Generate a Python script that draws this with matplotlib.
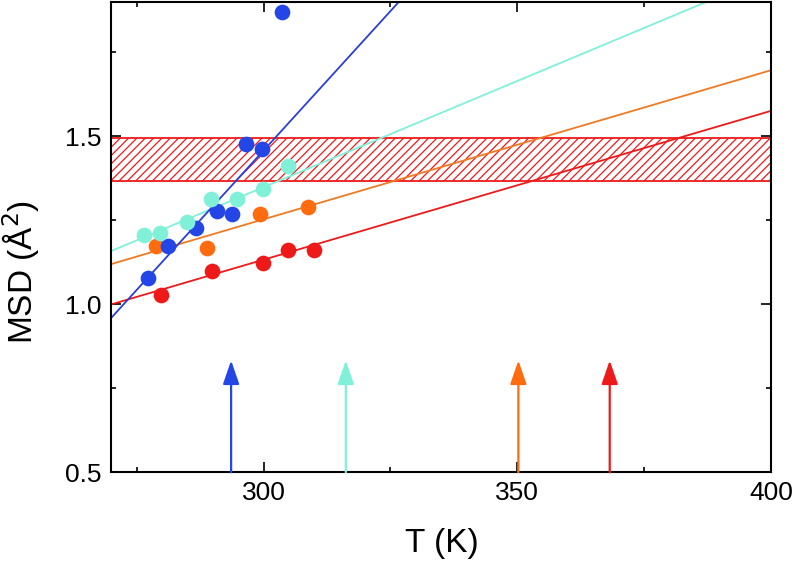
import numpy as np
import matplotlib
matplotlib.use("Agg")
import matplotlib.pyplot as plt

plt.rcParams['font.family'] = ['Liberation Sans', 'DejaVu Sans']
plt.rcParams['hatch.linewidth'] = 0.9

# ------------------------------ Datos ----------------------------

# puntos medidos (T en K, MSD en A^2)
blueT = [277.3, 281.1, 286.7, 290.8, 293.8, 296.5, 299.7, 303.6]
blueMSD = [1.077, 1.174, 1.228, 1.277, 1.269, 1.478, 1.463, 1.870]

cyanT = [276.5, 279.6, 284.9, 289.7, 294.8, 299.8, 304.9]
cyanMSD = [1.206, 1.211, 1.246, 1.314, 1.314, 1.342, 1.413]

orangeT = [278.8, 288.8, 299.2, 308.8]
orangeMSD = [1.174, 1.169, 1.269, 1.289]

redT = [279.8, 289.8, 299.9, 304.8, 309.9]
redMSD = [1.027, 1.098, 1.122, 1.161, 1.161]

# rectas de ajuste: valor de MSD en los extremos T = 270 y T = 400
fitT = [270, 400]
blueFit = [0.960, 3.118]
cyanFit = [1.159, 1.981]
orangeFit = [1.120, 1.697]
redFit = [1.000, 1.576]

# banda rayada
bandLow = 1.367
bandHigh = 1.495

# flechas (temperaturas marcadas)
arrowT = [293.6, 316.2, 350.2, 368.2]
arrowTop = 0.833

colBlue = '#2446e6'
colCyan = '#80f0d8'
colOrange = '#ff6c10'
colRed = '#ee1a1a'
lineBlue = '#2a3fd6'
lineOrange = '#f07a24'

# ------------------------------ Grafica ----------------------------

fig = plt.figure(figsize=(7.93, 5.72), dpi=100)
ax = fig.add_axes([0.1404, 0.1743, 0.832, 0.8222])

ax.axhspan(bandLow, bandHigh, facecolor='white', edgecolor=colRed,
           hatch='////', linewidth=1.3, zorder=1)

ax.plot(fitT, redFit, color=colRed, lw=1.3, zorder=2)
ax.plot(fitT, orangeFit, color=lineOrange, lw=1.3, zorder=2)
ax.plot(fitT, cyanFit, color=colCyan, lw=1.3, zorder=2)
ax.plot(fitT, blueFit, color=lineBlue, lw=1.3, zorder=2)

ms = 11.3
ax.plot(redT, redMSD, 'o', color=colRed, ms=ms, mew=0, zorder=3)
ax.plot(orangeT, orangeMSD, 'o', color=colOrange, ms=ms, mew=0, zorder=3)
ax.plot(blueT, blueMSD, 'o', color=colBlue, ms=ms, mew=0, zorder=3)
ax.plot(cyanT, cyanMSD, 'o', color=colCyan, ms=ms, mew=0, zorder=3)

for T, c in zip(arrowT, [colBlue, colCyan, colOrange, colRed]):
    ax.annotate('', xy=(T, arrowTop), xytext=(T, 0.5),
                arrowprops=dict(arrowstyle='-|>,head_width=0.5,head_length=1.45',
                                color=c, lw=1.6, shrinkA=0, shrinkB=0))

ax.set_xlim(270, 400)
ax.set_ylim(0.5, 1.9)
ax.set_xticks([300, 350, 400])
ax.set_xticks([275, 325, 375], minor=True)
ax.set_yticks([0.5, 1.0, 1.5])
ax.set_yticks([0.75, 1.25, 1.75], minor=True)
ax.set_yticklabels(['0.5', '1.0', '1.5'])

ax.tick_params(which='both', direction='in', top=True, right=True, width=1.2)
ax.tick_params(which='major', length=7)
ax.tick_params(which='minor', length=3.5)
ax.tick_params(axis='x', labelsize=19, pad=6)
ax.tick_params(axis='y', labelsize=19, pad=7)
for s in ax.spines.values():
    s.set_linewidth(1.5)

ax.set_xlabel('T (K)', fontsize=24)
ax.set_ylabel('MSD (Å$^2$)', fontsize=24)
ax.xaxis.set_label_coords(0.501, -0.118)
ax.yaxis.set_label_coords(-0.105, 0.426)

fig.savefig('out.png', dpi=100)
